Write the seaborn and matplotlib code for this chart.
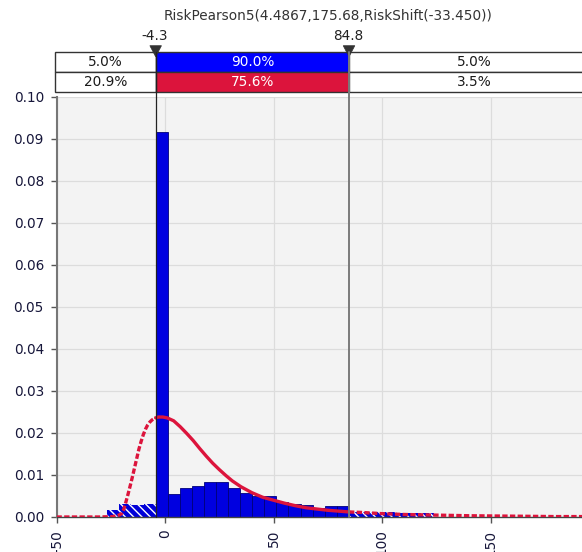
import numpy as np
import pandas as pd
import seaborn as sns
import matplotlib.pyplot as plt
from matplotlib.patches import Rectangle, Polygon

# histogram (bin edges and densities)
edges = [-26.6, -21.0, -15.5, -9.9, -4.3, 1.3, 6.8, 12.4, 17.9, 23.5, 29.1, 34.6,
         40.2, 45.8, 51.3, 56.9, 62.5, 68.0, 73.6, 79.2, 84.8, 90.4, 95.9, 101.5,
         107.1, 112.6, 118.2, 123.8]
heights = [0.0017, 0.0031, 0.0028, 0.0031,
           0.0917,
           0.0055, 0.0068, 0.0074, 0.0084, 0.0084, 0.0068, 0.0058, 0.0050,
           0.0050, 0.0036, 0.0030, 0.0029, 0.0021, 0.0026, 0.0026,
           0.0013, 0.0012, 0.0013, 0.0011, 0.0009, 0.0010, 0.0009]

# fitted curve, points
curve_x = [-50, -30, -24, -22, -21, -20, -19, -18, -17, -16, -15, -14, -13, -12, -11,
           -10, -9, -8, -7, -6, -5, -4.3, -3, -1, 1, 4, 7, 10, 13, 16, 19, 22, 25,
           28, 31, 35, 40, 45, 50, 55, 60, 65, 70, 75, 80, 84.8, 90, 100, 110, 120,
           130, 140, 160, 180, 200]
curve_y = [0, 0, 0.0001, 0.0003, 0.0005, 0.0008, 0.0018, 0.0036, 0.0055, 0.0075,
           0.0096, 0.0118, 0.0140, 0.0162, 0.0180, 0.0196, 0.0209, 0.0219, 0.0226,
           0.0231, 0.0234, 0.0236, 0.0238, 0.0238, 0.0236, 0.0229, 0.0215, 0.0199,
           0.0182, 0.0163, 0.0145, 0.0128, 0.0113, 0.0099, 0.0086, 0.0072, 0.0058,
           0.0047, 0.0040, 0.0033, 0.0027, 0.0022, 0.0019, 0.0016, 0.0014, 0.0012,
           0.0011, 0.0008, 0.0006, 0.0005, 0.0004, 0.0003, 0.0002, 0.0001, 0.0001]

lo_mark, hi_mark = -4.3, 84.8
row1 = ['5.0%', '90.0%', '5.0%']
row2 = ['20.9%', '75.6%', '3.5%']
title = 'RiskPearson5(4.4867,175.68,RiskShift(-33.450))'
xticks = [-50, 0, 50, 100, 150, 200]
yticks = [0.0, 0.01, 0.02, 0.03, 0.04, 0.05, 0.06, 0.07, 0.08, 0.09, 0.10]

sns.set_style('whitegrid', {'axes.facecolor': '#f3f3f3', 'grid.color': '#dcdcdc'})
plt.rcParams['font.family'] = ['DejaVu Sans']
plt.rcParams['font.size'] = 9.8

W, H = 582, 552
fig = plt.figure(figsize=(W / 100, H / 100), dpi=100)
ax = fig.add_axes([56.5 / W, 1 - 517 / H, (599 - 56.5) / W, 420 / H])
ax.set_zorder(2)

df = pd.DataFrame({'lo': edges[:-1], 'hi': edges[1:], 'h': heights})
df['mid'] = (df.lo + df.hi) / 2
inside = (df.lo >= lo_mark - 0.01) & (df.hi <= hi_mark + 0.01)

sns.histplot(x=df.mid, weights=df.h.where(inside, 0), bins=edges, color='#0000e0',
             edgecolor='#00007a', linewidth=0.6, alpha=1, ax=ax)
sns.histplot(x=df.mid, weights=df.h.where(~inside, 0), bins=edges, color='#0000d8',
             edgecolor='white', linewidth=0, alpha=1, hatch='\\\\\\\\', ax=ax)

cx = np.array(curve_x)
cy = np.array(curve_y)
mid = (cx >= lo_mark) & (cx <= hi_mark)
sns.lineplot(x=cx[mid], y=cy[mid], color='#dc143c', lw=2.4, ax=ax, zorder=5)
for m in (cx <= lo_mark, cx >= hi_mark):
    sns.lineplot(x=cx[m], y=cy[m], color='#dc143c', lw=2.4,
                 linestyle=(0, (1.6, 0.7)), ax=ax, zorder=5)

ax.set_xlim(-50, 200)
ax.set_ylim(0, 0.10)
ax.set_xticks(xticks)
ax.set_yticks(yticks)
ax.set_yticklabels([f'{v:.2f}' for v in yticks])
ax.set_xlabel('')
ax.set_ylabel('')
ax.tick_params(left=True, bottom=True, length=4, width=1, color='#555555',
               labelcolor='#16163a', pad=5)
plt.setp(ax.get_xticklabels(), rotation=90, va='top', ha='center')
ax.grid(True, color='#dcdcdc', lw=0.9)
for s in ('top', 'right'):
    ax.spines[s].set_visible(False)
ax.spines['left'].set_color('#777777')
ax.spines['left'].set_linewidth(1.5)
ax.spines['bottom'].set_color('#444444')
ax.spines['bottom'].set_linewidth(1)

# marker lines running up into the table
top_frac = (517 - 51.7) / 420
ax.axvline(lo_mark, ymin=0, ymax=top_frac, clip_on=False, color='#222222', lw=0.9, zorder=6)
ax.axvline(hi_mark, ymin=0, ymax=top_frac, clip_on=False, color='#7a7a7a', lw=1.4, zorder=6)

# overlay in pixel coords for the table and labels
ov = fig.add_axes([0, 0, 1, 1])
ov.set_zorder(1)
ov.set_xlim(0, W)
ov.set_ylim(H, 0)
ov.axis('off')
ov.patch.set_alpha(0)


def px(v):
    return ax.transData.transform((v, 0))[0]


xs = [55, px(lo_mark), px(hi_mark), px(200)]
rows = [(51.7, row1, ['white', '#0000ff', 'white']),
        (71.7, row2, ['white', '#dc143c', 'white'])]
for top, labels, fills in rows:
    for i in range(3):
        ov.add_patch(Rectangle((xs[i], top), xs[i + 1] - xs[i], 20, facecolor=fills[i],
                               edgecolor='#333333', lw=1))
        tc = '#1a1a1a' if fills[i] == 'white' else 'white'
        ov.text((xs[i] + xs[i + 1]) / 2, top + 10.5, labels[i], color=tc,
                ha='center', va='center')

for v in (lo_mark, hi_mark):
    x = px(v)
    ov.add_patch(Polygon([(x - 5.8, 45.7), (x + 5.8, 45.7), (x, 56.7)],
                         closed=True, facecolor='#333333', edgecolor='#333333', lw=0.5))
    ov.text(x - 1, 36, f'{v:.1f}', color='#222222', ha='center', va='center')

ov.text((xs[0] + xs[3]) / 2 + 1, 15.5, title, color='#333333', ha='center', va='center')

fig.savefig('out.png', dpi=100)
